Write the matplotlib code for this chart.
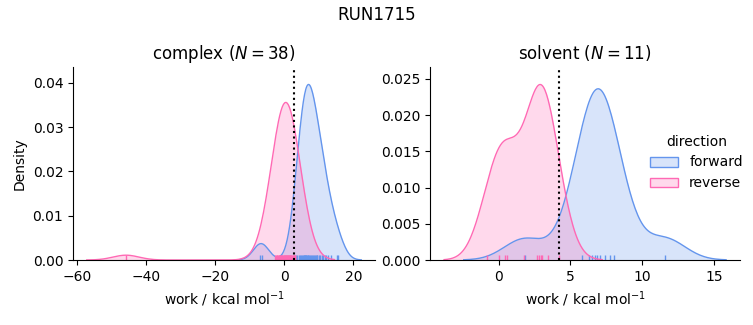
import matplotlib
matplotlib.use("Agg")
import matplotlib.pyplot as plt
import matplotlib.transforms as mtransforms
from matplotlib.patches import Patch
import numpy as np

# work values (kcal/mol)
complex_forward = [-7.0, -6.4, 3.4, 3.8, 4.2, 4.6, 4.9, 5.2, 5.4, 5.6, 5.8, 5.95, 6.1,
                   6.25, 6.4, 6.7, 6.85, 7.0, 7.2, 7.4, 7.7, 8.0, 8.3, 8.6, 8.9, 9.2,
                   9.4, 9.6, 10.0, 10.4, 10.8, 11.2, 11.7, 12.2, 12.8, 13.4, 15.2, 15.7]
complex_reverse = [-45.8, -2.6, -2.4, -2.2, -2.0, -1.8, -1.6, -1.4, -1.2, -1.0, -0.8,
                   -0.7, -0.5, -0.3, -0.2, 0.0, 0.1, 0.3, 0.4, 0.5, 0.7, 0.8, 1.0,
                   1.1, 1.3, 1.4, 1.6, 1.8, 1.9, 2.1, 2.3, 2.5, 2.7, 2.9, 3.0, 3.1,
                   3.2]
solvent_forward = [1.8, 5.8, 6.3, 6.5, 6.7, 6.85, 7.05, 7.4, 7.75, 8.0, 11.6]
solvent_reverse = [-0.8, 0.0, 0.45, 0.6, 1.75, 2.65, 2.8, 2.95, 3.05, 3.45, 4.2]

# free energy estimate marked with the dotted line
complex_estimate = 2.9
solvent_estimate = 4.2

run_name = "RUN1715"
directions = ["forward", "reverse"]
colors = {"forward": "cornflowerblue", "reverse": "hotpink"}

# density was normalised over every work value of the run
n_total = len(complex_forward) + len(complex_reverse) + len(solvent_forward) + len(solvent_reverse)


def kde(values, gridsize=200, cut=3):
    '''
    Gaussian KDE with Scott's rule, like seaborn's default.
    '''
    x = np.asarray(values, dtype=float)
    n = len(x)
    h = x.std(ddof=1) * n ** (-1 / 5)
    grid = np.linspace(x.min() - cut * h, x.max() + cut * h, gridsize)
    dens = np.exp(-0.5 * ((grid[:, None] - x[None, :]) / h) ** 2).sum(axis=1)
    dens = dens / (n * h * np.sqrt(2 * np.pi))
    return grid, dens * n / n_total


def draw_panel(ax, data, estimate, title):
    trans = mtransforms.blended_transform_factory(ax.transData, ax.transAxes)
    for name in directions:
        grid, dens = kde(data[name])
        ax.fill_between(grid, 0, dens, color=colors[name], alpha=0.25, linewidth=0)
        ax.plot(grid, dens, color=colors[name], linewidth=1)
        ax.vlines(data[name], 0, 0.025, transform=trans, color=colors[name], linewidth=1)
    ax.axvline(estimate, color="k", linestyle=":", linewidth=1.5)
    ax.set_ymargin(0.1)
    ax.autoscale_view()
    ax.set_ylim(bottom=0)
    ax.set_title(title)
    ax.set_xlabel("work / kcal mol$^{-1}$")
    ax.spines["top"].set_visible(False)
    ax.spines["right"].set_visible(False)


fig = plt.figure(figsize=(7.53, 3.25), dpi=100)
ax1 = fig.add_axes([0.097, 0.2, 0.401, 0.594])
ax2 = fig.add_axes([0.571, 0.2, 0.412, 0.594])

draw_panel(ax1, {"forward": complex_forward, "reverse": complex_reverse}, complex_estimate,
           "complex ($N=%d$)" % len(complex_forward))
draw_panel(ax2, {"forward": solvent_forward, "reverse": solvent_reverse}, solvent_estimate,
           "solvent ($N=%d$)" % len(solvent_forward))
ax1.set_ylabel("Density")
ax1.set_yticks([0, 0.01, 0.02, 0.03, 0.04])
ax2.set_yticks([0, 0.005, 0.01, 0.015, 0.02, 0.025])

handles = [Patch(facecolor=matplotlib.colors.to_rgba(colors[d], 0.25), edgecolor=colors[d], label=d)
           for d in directions]
fig.legend(handles=handles, title="direction", loc="center", frameon=False,
           bbox_to_anchor=(0.925, 0.50))

fig.suptitle(run_name)

fig.savefig("out.png", dpi=100)
